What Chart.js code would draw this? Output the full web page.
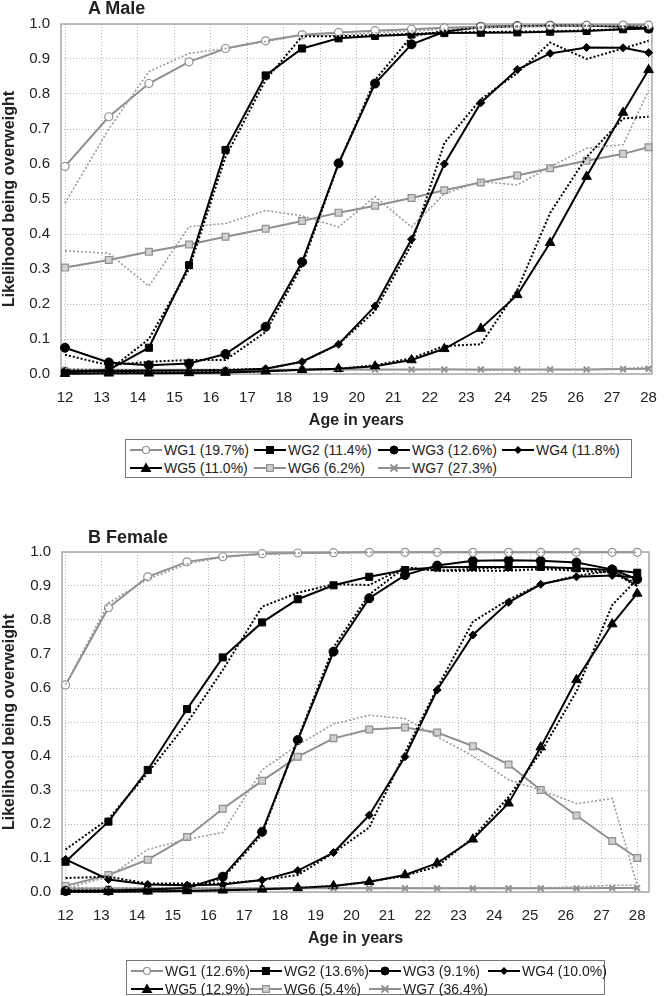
<!DOCTYPE html>
<html>
<head>
<meta charset="utf-8">
<script src="https://cdn.jsdelivr.net/npm/chart.js@4.4.1/dist/chart.umd.min.js"></script>
<style>
  body { margin: 0; width: 672px; height: 996px; background: #fff; position: relative; overflow: hidden;
         font-family: "Liberation Sans", Arial, sans-serif; color: #222; }
  .panel { position: absolute; left: 0; width: 672px; height: 436px; }
  .ptitle { position: absolute; left: 88px; font-weight: bold; font-size: 18px; line-height: 20px; }
  .legend { position: absolute; border: 1px solid #777; box-sizing: border-box; display: grid;
            padding: 1px 0 0 4px; font-size: 14px; }
  .item { display: flex; align-items: center; height: 18px; white-space: nowrap; }
  .item svg { margin-right: 2px; }
</style>
</head>
<body>
<div class="panel" style="top:0px"><canvas id="maleChart" width="672" height="436"></canvas></div>
<div class="ptitle" style="top:-2px">A Male</div>
<div class="legend" id="maleLegend" style="left:125px; top:439px; width:507px; height:39px; grid-template-columns:repeat(4,124px)"></div>

<div class="panel" style="top:528px"><canvas id="femaleChart" width="672" height="436"></canvas></div>
<div class="ptitle" style="top:527px">B Female</div>
<div class="legend" id="femaleLegend" style="left:126px; top:960px; width:479px; height:35px; grid-template-columns:repeat(4,119px)"></div>

<script>
// Mean age at each survey wave
const ages = [12, 13.2, 14.3, 15.4, 16.4, 17.5, 18.5, 19.5, 20.5, 21.5, 22.4, 23.4, 24.4, 25.3, 26.3, 27.3, 28];
const ageTicks = [12, 13, 14, 15, 16, 17, 18, 19, 20, 21, 22, 23, 24, 25, 26, 27, 28];

// Group names and shares
const groups = ['WG1', 'WG2', 'WG3', 'WG4', 'WG5', 'WG6', 'WG7'];
const maleShares = ['19.7%', '11.4%', '12.6%', '11.8%', '11.0%', '6.2%', '27.3%'];
const femaleShares = ['12.6%', '13.6%', '9.1%', '10.0%', '12.9%', '5.4%', '36.4%'];

// Male: estimated trajectories (solid)
const maleWG1 = [0.593, 0.735, 0.830, 0.892, 0.930, 0.952, 0.969, 0.976, 0.981, 0.985, 0.989, 0.992, 0.994, 0.995, 0.996, 0.997, 0.997];
const maleWG2 = [0.004, 0.012, 0.075, 0.311, 0.640, 0.853, 0.930, 0.959, 0.966, 0.970, 0.974, 0.975, 0.976, 0.978, 0.980, 0.985, 0.987];
const maleWG3 = [0.075, 0.033, 0.025, 0.030, 0.057, 0.135, 0.320, 0.602, 0.830, 0.942, 0.978, 0.992, 0.994, 0.995, 0.995, 0.993, 0.987];
const maleWG4 = [0.008, 0.008, 0.009, 0.010, 0.010, 0.015, 0.035, 0.085, 0.194, 0.385, 0.600, 0.775, 0.870, 0.916, 0.933, 0.932, 0.918];
const maleWG5 = [0.001, 0.002, 0.002, 0.003, 0.004, 0.008, 0.012, 0.015, 0.022, 0.040, 0.072, 0.130, 0.226, 0.375, 0.564, 0.747, 0.869];
const maleWG6 = [0.304, 0.326, 0.349, 0.370, 0.392, 0.415, 0.437, 0.461, 0.481, 0.503, 0.525, 0.547, 0.567, 0.588, 0.609, 0.629, 0.648];
const maleWG7 = [0.012, 0.012, 0.012, 0.012, 0.012, 0.012, 0.012, 0.013, 0.013, 0.013, 0.013, 0.013, 0.013, 0.013, 0.013, 0.014, 0.015];

// Male: observed proportions (dotted)
const maleObs1 = [0.488, 0.700, 0.864, 0.916, 0.930, 0.950, 0.968, 0.968, 0.975, 0.980, 0.985, 0.990, 0.992, 0.993, 0.995, 0.995, 0.996];
const maleObs2 = [0.005, 0.010, 0.100, 0.300, 0.620, 0.840, 0.965, 0.965, 0.968, 0.972, 0.975, 0.977, 0.978, 0.979, 0.982, 0.985, 0.990];
const maleObs3 = [0.055, 0.025, 0.035, 0.040, 0.040, 0.120, 0.310, 0.600, 0.840, 0.965, 0.980, 0.990, 0.993, 0.995, 0.995, 0.993, 0.992];
const maleObs4 = [0.010, 0.010, 0.010, 0.010, 0.012, 0.015, 0.035, 0.085, 0.180, 0.370, 0.660, 0.785, 0.860, 0.947, 0.900, 0.930, 0.952];
const maleObs5 = [0.002, 0.002, 0.003, 0.004, 0.005, 0.008, 0.012, 0.015, 0.025, 0.045, 0.080, 0.085, 0.240, 0.460, 0.620, 0.730, 0.735];
const maleObs6 = [0.352, 0.345, 0.251, 0.421, 0.430, 0.467, 0.452, 0.420, 0.507, 0.420, 0.515, 0.550, 0.540, 0.592, 0.645, 0.655, 0.810];
const maleObs7 = [0.015, 0.012, 0.012, 0.012, 0.012, 0.012, 0.012, 0.012, 0.012, 0.012, 0.015, 0.010, 0.012, 0.012, 0.012, 0.015, 0.020];

// Female: estimated trajectories (solid)
const femaleWG1 = [0.609, 0.836, 0.927, 0.971, 0.986, 0.995, 0.997, 0.998, 0.999, 0.999, 0.999, 0.999, 0.999, 0.999, 0.999, 0.999, 0.999];
const femaleWG2 = [0.089, 0.207, 0.359, 0.538, 0.690, 0.793, 0.861, 0.902, 0.927, 0.947, 0.955, 0.956, 0.956, 0.956, 0.952, 0.947, 0.939];
const femaleWG3 = [0.003, 0.004, 0.007, 0.012, 0.045, 0.177, 0.447, 0.707, 0.864, 0.932, 0.960, 0.974, 0.976, 0.974, 0.969, 0.949, 0.920];
const femaleWG4 = [0.096, 0.037, 0.022, 0.020, 0.022, 0.035, 0.063, 0.116, 0.226, 0.398, 0.594, 0.756, 0.852, 0.905, 0.927, 0.931, 0.925];
const femaleWG5 = [0.001, 0.001, 0.002, 0.003, 0.005, 0.008, 0.012, 0.018, 0.030, 0.050, 0.085, 0.155, 0.261, 0.426, 0.624, 0.788, 0.878];
const femaleWG6 = [0.018, 0.050, 0.095, 0.162, 0.245, 0.327, 0.398, 0.452, 0.478, 0.484, 0.469, 0.429, 0.375, 0.300, 0.225, 0.150, 0.100];
const femaleWG7 = [0.010, 0.010, 0.010, 0.010, 0.010, 0.011, 0.011, 0.011, 0.011, 0.011, 0.011, 0.011, 0.011, 0.011, 0.011, 0.012, 0.012];

// Female: observed proportions (dotted)
const femaleObs1 = [0.610, 0.850, 0.920, 0.965, 0.985, 0.993, 0.997, 0.998, 0.999, 0.999, 0.999, 0.999, 0.999, 0.999, 0.999, 0.999, 0.999];
const femaleObs2 = [0.125, 0.215, 0.350, 0.497, 0.653, 0.839, 0.880, 0.905, 0.903, 0.955, 0.945, 0.945, 0.945, 0.950, 0.945, 0.940, 0.900];
const femaleObs3 = [0.005, 0.005, 0.008, 0.012, 0.040, 0.170, 0.450, 0.720, 0.875, 0.955, 0.945, 0.950, 0.955, 0.955, 0.950, 0.945, 0.900];
const femaleObs4 = [0.041, 0.045, 0.025, 0.025, 0.025, 0.035, 0.050, 0.115, 0.190, 0.410, 0.600, 0.795, 0.860, 0.905, 0.930, 0.945, 0.905];
const femaleObs5 = [0.001, 0.001, 0.002, 0.003, 0.005, 0.008, 0.012, 0.018, 0.030, 0.048, 0.075, 0.160, 0.280, 0.410, 0.590, 0.844, 0.920];
const femaleObs6 = [0.010, 0.045, 0.125, 0.155, 0.175, 0.359, 0.432, 0.494, 0.520, 0.510, 0.457, 0.400, 0.330, 0.300, 0.260, 0.275, 0.020];
const femaleObs7 = [0.012, 0.012, 0.012, 0.012, 0.012, 0.012, 0.012, 0.012, 0.012, 0.012, 0.012, 0.012, 0.012, 0.012, 0.015, 0.020, 0.020];

// Look of each group (line colour, marker)
const GREY = '#8f8f8f';
const styles = [
  { line: GREY,   point: 'circle',   radius: 4,   fill: '#fff',  edge: GREY,   edgeW: 1.2 },
  { line: '#000', point: 'rect',     radius: 5,   fill: '#000',  edge: '#000', edgeW: 1 },
  { line: '#000', point: 'circle',   radius: 4.5, fill: '#000',  edge: '#000', edgeW: 1 },
  { line: '#000', point: 'rectRot',  radius: 4,   fill: '#000',  edge: '#000', edgeW: 1 },
  { line: '#000', point: 'triangle', radius: 5.5, fill: '#000',  edge: '#000', edgeW: 1 },
  { line: GREY,   point: 'rect',     radius: 4.8, fill: '#d0d0d0', edge: GREY, edgeW: 1.2 },
  { line: GREY,   point: 'crossRot', radius: 4,   fill: GREY,    edge: GREY,   edgeW: 2 }
];

function toPoints(values) {
  return values.map((v, i) => ({ x: ages[i], y: v }));
}

function buildDatasets(model, observed) {
  const sets = [];
  // dotted observed lines first
  observed.forEach((vals, i) => {
    const grey = styles[i].line !== '#000';
    sets.push({
      label: groups[i] + ' observed',
      data: toPoints(vals),
      borderColor: grey ? '#9a9a9a' : '#000',
      borderWidth: grey ? 1.6 : 2,
      borderDash: [2, 2],
      pointRadius: 0,
      fill: false,
      tension: 0
    });
  });
  model.forEach((vals, i) => {
    const s = styles[i];
    sets.push({
      label: groups[i],
      data: toPoints(vals),
      borderColor: s.line,
      borderWidth: 2,
      pointStyle: s.point,
      pointRadius: s.radius,
      pointBackgroundColor: s.fill,
      pointBorderColor: s.edge,
      pointBorderWidth: s.edgeW,
      fill: false,
      tension: 0
    });
  });
  return sets;
}

// gray frame round the plot area
const frame = {
  id: 'frame',
  beforeDatasetsDraw(chart) {
    const a = chart.chartArea;
    const ctx = chart.ctx;
    ctx.save();
    ctx.strokeStyle = '#a8a8a8';
    ctx.lineWidth = 1.5;
    ctx.strokeRect(a.left, a.top, a.right - a.left, a.bottom - a.top);
    ctx.restore();
  }
};

function makeChart(id, model, observed, box) {
  const tickFont = { family: '"Liberation Sans", Arial, sans-serif', size: 15 };
  const titleFont = { family: '"Liberation Sans", Arial, sans-serif', size: 16, weight: 'bold' };
  return new Chart(document.getElementById(id), {
    type: 'line',
    data: { datasets: buildDatasets(model, observed) },
    options: {
      responsive: false,
      animation: false,
      clip: false,
      layout: { padding: { top: 24, left: 0, right: box.padRight, bottom: box.padBottom } },
      plugins: { legend: { display: false }, title: { display: false }, tooltip: { enabled: false } },
      scales: {
        x: {
          type: 'linear',
          min: box.xMin,
          max: box.xMax,
          afterBuildTicks: (axis) => { axis.ticks = ageTicks.map(v => ({ value: v })); },
          afterFit: (axis) => { axis.height = 58; },
          ticks: { font: tickFont, color: '#222', padding: 15, maxRotation: 0, autoSkip: false },
          grid: { color: '#b4b4b4', lineWidth: 1, drawTicks: false },
          border: { display: false, dash: [1, 2] },
          title: { display: true, text: 'Age in years', font: titleFont, color: '#222', padding: { top: 0, bottom: 2 } }
        },
        y: {
          min: 0,
          max: 1,
          afterFit: (axis) => { axis.width = box.yWidth; },
          ticks: { stepSize: 0.1, font: tickFont, color: '#222', padding: 11,
                   callback: (v) => Number(v).toFixed(1) },
          grid: { color: '#b4b4b4', lineWidth: 1, drawTicks: false },
          border: { display: false, dash: [1, 2] },
          title: { display: true, text: 'Likelihood being overweight', font: titleFont, color: '#222', padding: { top: 0, bottom: 0 } }
        }
      }
    },
    plugins: [frame]
  });
}

// small line + marker sample for the legend
function sampleSvg(s) {
  let mark = '';
  const c = 16, m = 6;
  if (s.point === 'circle') {
    const r = s.radius - 0.5;
    mark = `<circle cx="${c}" cy="${m}" r="${r}" fill="${s.fill}" stroke="${s.edge}" stroke-width="${s.edgeW}"/>`;
  } else if (s.point === 'rect') {
    const h = s.radius * 0.7;
    mark = `<rect x="${c - h}" y="${m - h}" width="${2 * h}" height="${2 * h}" fill="${s.fill}" stroke="${s.edge}" stroke-width="${s.edgeW}"/>`;
  } else if (s.point === 'rectRot') {
    mark = `<polygon points="${c},${m - 4} ${c + 4},${m} ${c},${m + 4} ${c - 4},${m}" fill="${s.fill}"/>`;
  } else if (s.point === 'triangle') {
    mark = `<polygon points="${c},${m - 5.5} ${c + 5.5},${m + 4} ${c - 5.5},${m + 4}" fill="${s.fill}"/>`;
  } else {
    mark = `<path d="M${c - 3.5} ${m - 3.5}L${c + 3.5} ${m + 3.5}M${c + 3.5} ${m - 3.5}L${c - 3.5} ${m + 3.5}" stroke="${s.edge}" stroke-width="2"/>`;
  }
  return `<svg width="32" height="12"><line x1="0" y1="${m}" x2="32" y2="${m}" stroke="${s.line}" stroke-width="2"/>${mark}</svg>`;
}

function makeLegend(id, shares) {
  const el = document.getElementById(id);
  el.innerHTML = groups.map((g, i) =>
    `<div class="item">${sampleSvg(styles[i])}<span>${g} (${shares[i]})</span></div>`).join('');
}

makeChart('maleChart',
  [maleWG1, maleWG2, maleWG3, maleWG4, maleWG5, maleWG6, maleWG7],
  [maleObs1, maleObs2, maleObs3, maleObs4, maleObs5, maleObs6, maleObs7],
  { xMin: 11.89, xMax: 28.09, yWidth: 61, padRight: 11, padBottom: 4 });

makeChart('femaleChart',
  [femaleWG1, femaleWG2, femaleWG3, femaleWG4, femaleWG5, femaleWG6, femaleWG7],
  [femaleObs1, femaleObs2, femaleObs3, femaleObs4, femaleObs5, femaleObs6, femaleObs7],
  { xMin: 11.9, xMax: 28.33, yWidth: 62, padRight: 23, padBottom: 14 });

makeLegend('maleLegend', maleShares);
makeLegend('femaleLegend', femaleShares);
</script>
</body>
</html>
